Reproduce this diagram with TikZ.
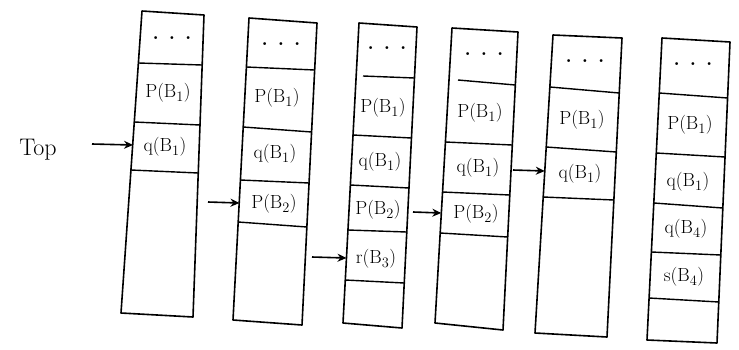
\documentclass[tikz,border=0pt]{standalone}
\usetikzlibrary{arrows.meta}
\begin{document}
\begin{tikzpicture}[x=1pt,y=-1pt,
  box/.style={draw=black,line width=1.6pt,line join=round},
  divline/.style={draw=black,line width=1.4pt},
  lab/.style={font=\fontsize{19}{21}\selectfont,inner sep=0pt},
  dots/.style={font=\fontsize{20}{20}\selectfont\bfseries,inner sep=0pt},
  arr/.style={draw=black,line width=1.6pt,-{Stealth[length=9pt,width=8pt]}}]
\useasboundingbox (0,0) rectangle (739,349);

% ---------- stack 1
\draw[box] (142,11) coordinate (s1tl) -- (204,15) coordinate (s1tr) -- (193,317) coordinate (s1br) -- (121,313) coordinate (s1bl) -- cycle;
\draw[divline] (138.4,63) -- (202.2,65);
\draw[divline] (134.3,122) -- (200,125);
\draw[divline] (131,170) -- (198.2,173);
\node[dots] (s1d) at (172,38) {. . .};
\node[lab] (s1p) at (168,93) {P(B$_1$)};
\node[lab] (s1q) at (165,147) {q(B$_1$)};
\coordinate (s1in) at (133,145);

% ---------- stack 2
\draw[box] (249,18) coordinate (s2tl) -- (317,23) coordinate (s2tr) -- (302,325) coordinate (s2br) -- (233,320) coordinate (s2bl) -- cycle;
\draw[divline] (246.4,67) -- (314.7,70);
\draw[divline] (243.2,127) -- (311.6,132);
\draw[divline] (240.4,180) -- (309.1,183);
\draw[divline] (238.2,222) -- (306.9,227);
\node[dots] (s2d) at (281,44) {. . .};
\node[lab] (s2p) at (277,98) {P(B$_1$)};
\node[lab] (s2q) at (275,154) {q(B$_1$)};
\node[lab] (s2r) at (274,204) {P(B$_2$)};
\coordinate (s2in) at (239.5,203);

% ---------- stack 3
\draw[box] (359,23) coordinate (s3tl) -- (417,27) coordinate (s3tr) -- (402,328) coordinate (s3br) -- (343,323) coordinate (s3bl) -- cycle;
\draw[divline] (363,76) -- (414.5,78);
\draw[divline] (353,135) -- (411.5,138);
\draw[divline] (350.4,185) -- (409,188);
\draw[divline] (348,230) -- (406.8,232);
\draw[divline] (345.3,280) -- (404.2,283);
\node[dots] (s3d) at (387,48) {. . .};
\node[lab] (s3p) at (383,108) {P(B$_1$)};
\node[lab] (s3q) at (380,162) {q(B$_1$)};
\node[lab] (s3r) at (378,210) {P(B$_2$)};
\node[lab] (s3s) at (376,259) {r(B$_3$)};
\coordinate (s3in) at (346.5,258);
\coordinate (s3out) at (413,212);

% ---------- stack 4
\draw[box] (452,28) coordinate (s4tl) -- (518,32) coordinate (s4tr) -- (503,330) coordinate (s4br) -- (435,323) coordinate (s4bl) -- cycle;
\draw[divline] (458,80) -- (515.3,85);
\draw[divline] (445.4,142) -- (512.3,145);
\draw[divline] (442.5,192) -- (509.8,195);
\draw[divline] (440.2,233) -- (507.7,237);
\node[dots] (s4d) at (484,54) {. . .};
\node[lab] (s4p) at (480,113) {P(B$_1$)};
\node[lab] (s4q) at (478,168) {q(B$_1$)};
\node[lab] (s4r) at (476,214) {P(B$_2$)};
\coordinate (s4in) at (441.3,213);
\coordinate (s4out) at (513,170);

% ---------- stack 5
\draw[box] (553,35) coordinate (s5tl) -- (622,38) coordinate (s5tr) -- (607,337) coordinate (s5br) -- (535,333) coordinate (s5bl) -- cycle;
\draw[divline] (549.9,87) -- (619.2,93);
\draw[divline] (546.2,147) -- (616.3,152);
\draw[divline] (543.2,197) -- (613.9,200);
\node[dots] (s5d) at (585,61) {. . .};
\node[lab] (s5p) at (582,120) {P(B$_1$)};
\node[lab] (s5q) at (580,174) {q(B$_1$)};
\coordinate (s5in) at (544.8,171);

% ---------- stack 6
\draw[box] (662,38) coordinate (s6tl) -- (730,42) coordinate (s6tr) -- (717,343) coordinate (s6br) -- (647,340) coordinate (s6bl) -- cycle;
\draw[divline] (659.3,93) -- (727.6,98);
\draw[divline] (656.3,153) -- (725,157);
\draw[divline] (653.8,203) -- (722.8,208);
\draw[divline] (651.4,252) -- (720.8,255);
\draw[divline] (649.1,298) -- (718.8,302);
\node[dots] (s6d) at (693,64) {. . .};
\node[lab] (s6p) at (690,125) {P(B$_1$)};
\node[lab] (s6q) at (688,182) {q(B$_1$)};
\node[lab] (s6r) at (686,229) {q(B$_4$)};
\node[lab] (s6s) at (684,277) {s(B$_4$)};

% ---------- Top pointer and arrows
\node[font=\fontsize{24}{26}\selectfont,inner sep=0pt] (top) at (38,150) {Top};
\coordinate (t1) at (92,144);
\coordinate (t2) at (208,202);
\coordinate (t3) at (312,257);
\draw[arr] (t1) -- (s1in);
\draw[arr] (t2) -- (s2in);
\draw[arr] (t3) -- (s3in);
\draw[arr] (s3out) -- (s4in);
\draw[arr] (s4out) -- (s5in);
\end{tikzpicture}
\end{document}
